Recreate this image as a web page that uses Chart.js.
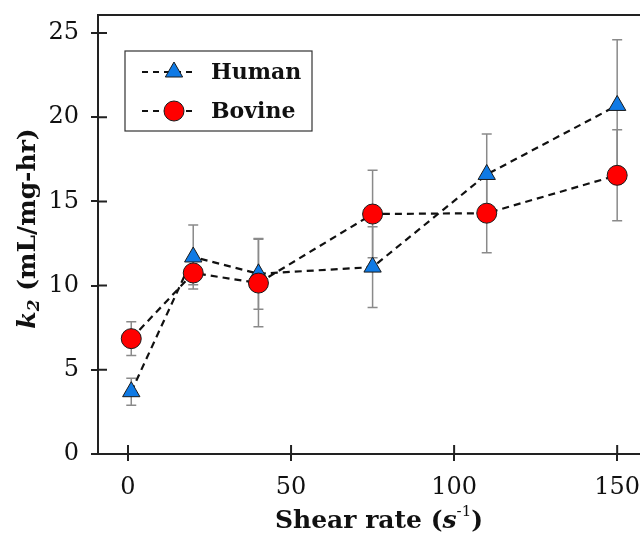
<!DOCTYPE html>
<html lang="en">
<head>
<meta charset="UTF-8" />
<title>k2 vs shear rate</title>
<script src="https://cdn.jsdelivr.net/npm/chart.js"></script>
<style>
  html, body { margin: 0; padding: 0; background: #fff; }
  #wrap { width: 640px; height: 534px; }
</style>
</head>
<body>
<div id="wrap"><canvas id="myCanvas"></canvas></div>
<script>
  // values
  const shearRates = [1, 20, 40, 75, 110, 150];
  const humanK2 = [3.7, 11.7, 10.7, 11.1, 16.6, 20.7];
  const humanErr = [0.8, 1.9, 2.1, 2.4, 2.4, 3.9];
  const bovineK2 = [6.85, 10.75, 10.15, 14.25, 14.3, 16.55];
  const bovineErr = [1.0, 0.7, 2.6, 2.6, 2.35, 2.7];
  const xTicks = [0, 50, 100, 150];
  const yTicks = [0, 5, 10, 15, 20, 25];

  const serif = "'DejaVu Serif', 'Liberation Serif', serif";
  const axisColor = "#222";

  function toPoints(xs, ys) {
    return xs.map(function (x, i) { return { x: x, y: ys[i] }; });
  }

  // error bars, drawn under the markers
  const errorBars = {
    id: "errorBars",
    beforeDatasetsDraw(chart) {
      const ctx = chart.ctx;
      const xs = chart.scales.x, ys = chart.scales.y;
      ctx.save();
      ctx.strokeStyle = "#8a8a8a";
      ctx.lineWidth = 1.5;
      chart.data.datasets.forEach(function (ds) {
        ds.data.forEach(function (p, i) {
          const e = ds.errors[i];
          const px = xs.getPixelForValue(p.x);
          const top = ys.getPixelForValue(p.y + e);
          const bot = ys.getPixelForValue(p.y - e);
          ctx.beginPath();
          ctx.moveTo(px, top); ctx.lineTo(px, bot);
          ctx.moveTo(px - 5, top); ctx.lineTo(px + 5, top);
          ctx.moveTo(px - 5, bot); ctx.lineTo(px + 5, bot);
          ctx.stroke();
        });
      });
      ctx.restore();
    }
  };

  function drawMarker(ctx, style, x, y, r) {
    if (style === "triangle") {
      ctx.moveTo(x, y - r);
      ctx.lineTo(x + r * Math.sqrt(3) / 2, y + r / 2);
      ctx.lineTo(x - r * Math.sqrt(3) / 2, y + r / 2);
      ctx.closePath();
    } else {
      ctx.arc(x, y, r, 0, Math.PI * 2);
    }
  }

  // frame top, inner tick halves, axis titles and legend
  const decorations = {
    id: "decorations",
    afterDraw(chart) {
      const ctx = chart.ctx;
      const a = chart.chartArea;
      const xs = chart.scales.x, ys = chart.scales.y;
      ctx.save();
      ctx.strokeStyle = axisColor;
      ctx.lineWidth = 2;
      ctx.beginPath();
      ctx.moveTo(a.left, a.top); ctx.lineTo(a.right, a.top);
      xTicks.forEach(function (v) {
        const px = xs.getPixelForValue(v);
        ctx.moveTo(px, a.bottom); ctx.lineTo(px, a.bottom - 9);
      });
      yTicks.forEach(function (v) {
        const py = ys.getPixelForValue(v);
        ctx.moveTo(a.left, py); ctx.lineTo(a.left + 9, py);
      });
      ctx.stroke();

      // x title
      ctx.fillStyle = "#111";
      ctx.textBaseline = "alphabetic";
      const bold = "bold 25px " + serif;
      const boldIt = "bold italic 25px " + serif;
      const small = "15px " + serif;
      const parts = [
        { t: "Shear rate (", f: bold, dy: 0 },
        { t: "s", f: boldIt, dy: 0 },
        { t: "-1", f: small, dy: -12 },
        { t: ")", f: bold, dy: 0 }
      ];
      let total = 0;
      parts.forEach(function (p) { ctx.font = p.f; p.w = ctx.measureText(p.t).width; total += p.w; });
      let x0 = (a.left + a.right) / 2 + 10 - total / 2;
      const yb = 528;
      parts.forEach(function (p) {
        ctx.font = p.f;
        ctx.fillText(p.t, x0, yb + p.dy);
        x0 += p.w;
      });

      // y title
      ctx.save();
      ctx.translate(35, (a.top + a.bottom) / 2 - 6);
      ctx.rotate(-Math.PI / 2);
      const kFont = "italic bold 25px " + serif;
      const subFont = "bold italic 17px " + serif;
      const restFont = "bold 25px " + serif;
      const rest = " (mL/mg-hr)";
      ctx.font = kFont; const k1 = ctx.measureText("k").width;
      ctx.font = subFont; const k2 = ctx.measureText("2").width;
      ctx.font = restFont; const k3 = ctx.measureText(rest).width;
      let s = -(k1 + k2 + k3) / 2;
      ctx.font = kFont; ctx.fillText("k", s, 0);
      ctx.font = subFont; ctx.fillText("2", s + k1, 4);
      ctx.font = restFont; ctx.fillText(rest, s + k1 + k2, 0);
      ctx.restore();

      // legend
      const lx = a.left + 27, ly = a.top + 36;
      ctx.lineWidth = 1.2;
      ctx.strokeStyle = "#333";
      ctx.strokeRect(lx, ly, 187, 80);
      [0, 1].forEach(function (di, row) {
        const ds = chart.data.datasets[di];
        const cy = ly + 21 + row * 39;
        ctx.save();
        ctx.strokeStyle = "#111";
        ctx.lineWidth = 2;
        ctx.setLineDash([6, 5]);
        ctx.beginPath();
        ctx.moveTo(lx + 17, cy); ctx.lineTo(lx + 71, cy);
        ctx.stroke();
        ctx.restore();
        ctx.fillStyle = ds.pointBackgroundColor;
        ctx.strokeStyle = ds.pointBorderColor;
        ctx.lineWidth = ds.pointBorderWidth;
        ctx.beginPath();
        drawMarker(ctx, ds.pointStyle, lx + 49, cy, ds.pointRadius);
        ctx.fill(); ctx.stroke();
        ctx.fillStyle = "#111";
        ctx.font = "bold 22px " + serif;
        ctx.textBaseline = "middle";
        ctx.fillText(ds.label, lx + 86, cy + 1);
      });
      ctx.restore();
    }
  };

  const dados = {
    datasets: [
      {
        label: "Human",
        data: toPoints(shearRates, humanK2),
        errors: humanErr,
        pointStyle: "triangle",
        pointRadius: 10,
        pointBackgroundColor: "#0f7ae5",
        pointBorderColor: "#1a1a1a",
        pointBorderWidth: 1,
        borderColor: "#111",
        borderWidth: 2.2,
        borderDash: [7, 5],
        fill: false,
        order: 1
      },
      {
        label: "Bovine",
        data: toPoints(shearRates, bovineK2),
        errors: bovineErr,
        pointStyle: "circle",
        pointRadius: 10,
        pointBackgroundColor: "#ff0000",
        pointBorderColor: "#1a1a1a",
        pointBorderWidth: 1,
        borderColor: "#111",
        borderWidth: 2.2,
        borderDash: [7, 5],
        fill: false,
        order: 0
      }
    ]
  };

  const config = {
    type: "line",
    data: dados,
    plugins: [errorBars, decorations],
    options: {
      responsive: true,
      maintainAspectRatio: false,
      animation: false,
      clip: false,
      layout: { autoPadding: false, padding: { top: 15, right: 0, left: 0, bottom: 0 } },
      plugins: {
        legend: { display: false },
        tooltip: { enabled: false }
      },
      scales: {
        x: {
          type: "linear",
          min: -9.2,
          max: 157,
          afterBuildTicks: function (s) { s.ticks = xTicks.map(function (v) { return { value: v }; }); },
          afterFit: function (s) { s.height = 80; s.paddingLeft = 0; s.paddingRight = 0; },
          border: { display: true, color: axisColor, width: 2 },
          grid: { drawOnChartArea: false, drawTicks: true, tickLength: 7, color: axisColor, lineWidth: 2 },
          ticks: { color: "#111", font: { family: serif, size: 24 }, padding: 12, maxRotation: 0 }
        },
        y: {
          type: "linear",
          min: 0,
          max: 26.07,
          afterBuildTicks: function (s) { s.ticks = yTicks.map(function (v) { return { value: v }; }); },
          afterFit: function (s) { s.width = 98; s.paddingTop = 0; s.paddingBottom = 0; },
          border: { display: true, color: axisColor, width: 2 },
          grid: { drawOnChartArea: false, drawTicks: true, tickLength: 7, color: axisColor, lineWidth: 2 },
          ticks: { color: "#111", font: { family: serif, size: 24 }, padding: 12 }
        }
      }
    }
  };

  const myChart = new Chart(document.getElementById("myCanvas"), config);
</script>
</body>
</html>
